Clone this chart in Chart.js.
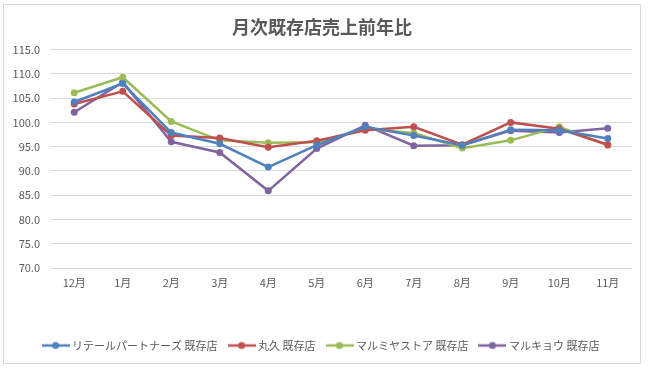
<!DOCTYPE html>
<html><head><meta charset="utf-8">
<script src="https://cdn.jsdelivr.net/npm/chart.js@4"></script>
<style>html,body{margin:0;padding:0;background:#fff;}#wrap{width:650px;height:370px;position:relative;}</style>
</head><body><div id="wrap"><canvas id="c" width="650" height="370"></canvas></div>
<script>
const title = '月次既存店売上前年比';
const months = ['12月','1月','2月','3月','4月','5月','6月','7月','8月','9月','10月','11月'];
const seriesNames = ['リテールパートナーズ 既存店','丸久 既存店','マルミヤストア 既存店','マルキョウ 既存店'];
const retailPartners = [104.2,108.0,97.9,95.6,90.8,95.3,99.1,97.3,95.3,98.5,98.4,96.7];
const marukyu       = [103.8,106.4,97.3,96.8,94.9,96.2,98.4,99.1,95.4,100.0,98.7,95.4];
const marumiya      = [106.1,109.3,100.2,96.3,95.8,95.9,98.7,97.8,94.7,96.3,99.1,95.3];
const marukyo       = [102.1,108.3,96.0,93.8,85.9,94.6,99.4,95.2,95.3,98.3,97.9,98.8];
const yTicks = [70,75,80,85,90,95,100,105,110,115];
const colors = ['#4F81BD','#C0504D','#9BBB59','#8064A2'];
const seriesData = [retailPartners, marukyu, marumiya, marukyo];

function legendIcon(color){
  const cv = document.createElement('canvas');
  cv.width = 28; cv.height = 10;
  const g = cv.getContext('2d');
  g.strokeStyle = color; g.lineWidth = 2.5;
  g.beginPath(); g.moveTo(0,5); g.lineTo(28,5); g.stroke();
  g.fillStyle = color; g.beginPath(); g.arc(14,5,3.5,0,Math.PI*2); g.fill();
  return cv;
}

const borderPlugin = {
  id:'frame',
  beforeDraw(chart){
    const ctx = chart.ctx;
    ctx.save();
    ctx.fillStyle='#fff'; ctx.fillRect(0,0,chart.width,chart.height);
    ctx.strokeStyle='#d9d9d9'; ctx.lineWidth=1;
    ctx.strokeRect(3.5,4.5,637,359);
    ctx.restore();
  }
};

const tickFont = {family:'"Noto Sans CJK JP"',size:11};

new Chart(document.getElementById('c'), {
  type:'line',
  data:{
    labels: months,
    datasets: seriesData.map((d,i)=>({
      label: seriesNames[i], data: d,
      borderColor: colors[i], backgroundColor: colors[i],
      borderWidth: 2.5, pointRadius: 3.5, pointBorderWidth: 0,
      pointBackgroundColor: colors[i], tension: 0, fill:false,
      pointStyle: 'circle'
    }))
  },
  options:{
    responsive:false, animation:false,
    layout:{padding:{left:12,right:18,top:10,bottom:9}},
    plugins:{
      title:{display:true,text:title,color:'#595959',font:{family:'"Noto Sans CJK JP"',size:18,weight:'bold'},padding:{top:6,bottom:12}},
      legend:{position:'bottom',labels:{
        color:'#595959',font:{family:'"Noto Sans CJK JP"',size:11},
        usePointStyle:true, pointStyleWidth:22, boxHeight:10, padding:13,
        generateLabels(chart){
          return chart.data.datasets.map((ds,i)=>({
            text: ds.label, fillStyle: colors[i], strokeStyle: colors[i],
            pointStyle: legendIcon(colors[i]), datasetIndex:i, fontColor:'#595959', lineWidth:0
          }));
        }
      }},
      tooltip:{enabled:false}
    },
    scales:{
      x:{offset:true,grid:{display:false,drawTicks:false},border:{display:false},
         ticks:{color:'#595959',font:tickFont,padding:8},
         afterFit(s){s.height=59;}},
      y:{min:70,max:115,
         afterBuildTicks(ax){ax.ticks = yTicks.map(v=>({value:v}));},
         grid:{color:'#d9d9d9',drawTicks:false},border:{display:false},
         ticks:{color:'#595959',font:tickFont,padding:10,callback:v=>Number(v).toFixed(1)},
         afterFit(s){s.width=38;}}
    }
  },
  plugins:[borderPlugin]
});
</script></body></html>
